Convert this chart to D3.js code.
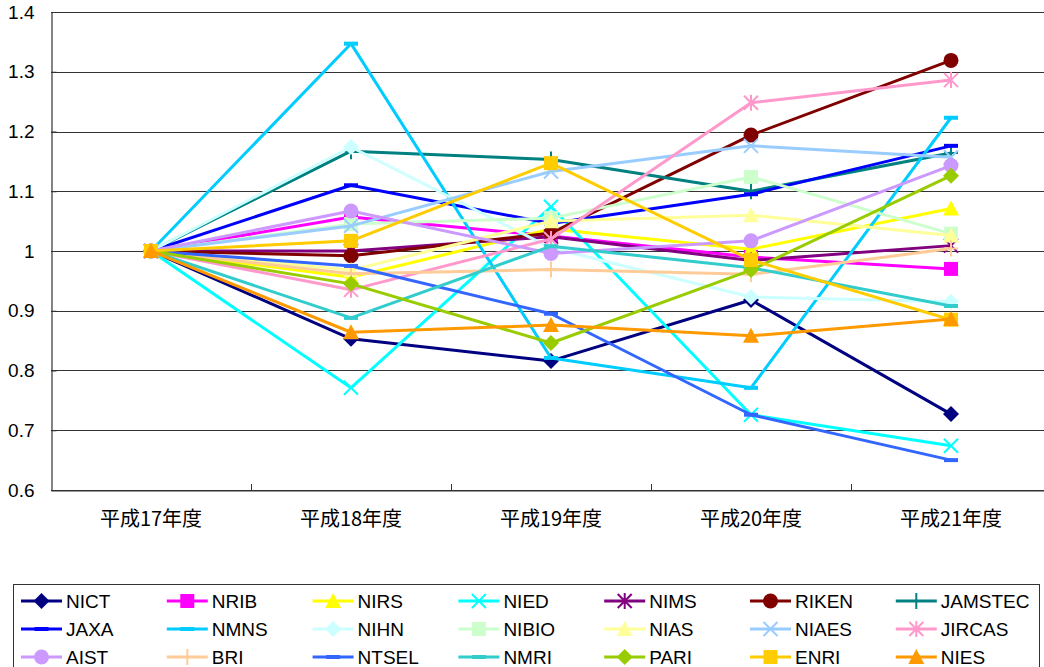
<!DOCTYPE html>
<html><head><meta charset="utf-8">
<script src="https://cdn.jsdelivr.net/npm/d3@7"></script>
<style>
html,body{margin:0;padding:0;background:#fff;}
svg{display:block;}
</style></head>
<body>
<svg id="chart" width="1044" height="667"></svg>
<script>
const categories = ["平成17年度","平成18年度","平成19年度","平成20年度","平成21年度"];
const seriesNames = ["NICT","NRIB","NIRS","NIED","NIMS","RIKEN","JAMSTEC","JAXA","NMNS","NIHN","NIBIO","NIAS","NIAES","JIRCAS","AIST","BRI","NTSEL","NMRI","PARI","ENRI","NIES"];
const NICT    = [1, 0.853, 0.816, 0.918, 0.727];
const NRIB    = [1, 1.057, 1.025, 0.990, 0.970];
const NIRS    = [1, 0.956, 1.037, 1.003, 1.071];
const NIED    = [1, 0.771, 1.074, 0.726, 0.674];
const NIMS    = [1, 1.000, 1.024, 0.984, 1.009];
const RIKEN   = [1, 0.992, 1.030, 1.194, 1.319];
const JAMSTEC = [1, 1.167, 1.153, 1.100, 1.164];
const JAXA    = [1, 1.110, 1.046, 1.095, 1.176];
const NMNS    = [1, 1.347, 0.821, 0.771, 1.223];
const NIHN    = [1, 1.174, 1.005, 0.923, 0.915];
const NIBIO   = [1, 1.045, 1.055, 1.124, 1.029];
const NIAS    = [1, 0.968, 1.050, 1.060, 1.026];
const NIAES   = [1, 1.042, 1.133, 1.176, 1.157];
const JIRCAS  = [1, 0.935, 1.020, 1.248, 1.286];
const AIST    = [1, 1.067, 0.996, 1.017, 1.143];
const BRI     = [1, 0.962, 0.969, 0.961, 1.004];
const NTSEL   = [1, 0.975, 0.895, 0.726, 0.650];
const NMRI    = [1, 0.888, 1.008, 0.972, 0.908];
const PARI    = [1, 0.945, 0.846, 0.968, 1.126];
const ENRI    = [1, 1.017, 1.147, 0.985, 0.885];
const NIES    = [1, 0.864, 0.876, 0.858, 0.886];
const yTicks = [0.6, 0.7, 0.8, 0.9, 1.0, 1.1, 1.2, 1.3, 1.4];
const yTickLabels = ["0.6","0.7","0.8","0.9","1","1.1","1.2","1.3","1.4"];
const colors  = ["#000080","#FF00FF","#FFFF00","#00FFFF","#800080","#800000","#008080","#0000FF","#00CCFF","#CCFFFF","#CCFFCC","#FFFF99","#99CCFF","#FF99CC","#CC99FF","#FFCC99","#3366FF","#33CCCC","#99CC00","#FFCC00","#FF9900"];
const markers = ["diamond","square","triangle","x","star","circle","plus","dash","dash","diamond","square","triangle","x","star","circle","plus","dash","dash","diamond","square","triangle"];

const values = [NICT,NRIB,NIRS,NIED,NIMS,RIKEN,JAMSTEC,JAXA,NMNS,NIHN,NIBIO,NIAS,NIAES,JIRCAS,AIST,BRI,NTSEL,NMRI,PARI,ENRI,NIES];
const series = seriesNames.map((n,i)=>({name:n, values:values[i], color:colors[i], marker:markers[i]}));

const svg = d3.select("#chart");
const pLeft = 51, pRight = 1051, pTop = 12, pBottom = 490;
const x = d3.scaleBand().domain(categories).range([pLeft, pRight]);
const cx = c => x(c) + x.bandwidth()/2;
const y = d3.scaleLinear().domain([0.6, 1.4]).range([pBottom, pTop]);

// gridlines
svg.append("g").selectAll("line").data(yTicks).join("line")
  .attr("x1", pLeft).attr("x2", pRight)
  .attr("y1", d => Math.round(y(d))+0.5).attr("y2", d => Math.round(y(d))+0.5)
  .attr("stroke", "#333").attr("stroke-width", 1);

// y axis
const yAxis = d3.axisLeft(y).tickValues(yTicks).tickSize(-5).tickPadding(17)
  .tickFormat((d,i)=>yTickLabels[i]);
const gy = svg.append("g").attr("transform", `translate(${pLeft+0.5},0)`).call(yAxis);
gy.select(".domain").attr("stroke","#333").attr("stroke-width",1.2);
gy.selectAll(".tick line").attr("stroke","#333");
gy.selectAll(".tick text").attr("font-family","'Liberation Sans', Arial, sans-serif")
  .attr("font-size","19px").attr("fill","#000");

// x axis
const xAxis = d3.axisBottom(x).tickSize(0).tickPadding(21);
const gx = svg.append("g").attr("transform", `translate(0,${pBottom+0.5})`).call(xAxis);
gx.select(".domain").attr("stroke","#333").attr("stroke-width",1.2);
gx.selectAll(".tick text").attr("font-family","'Noto Sans CJK JP', sans-serif")
  .attr("font-size","20px").attr("fill","#000");
// inner ticks between categories
const bounds = categories.slice(1).map(c => x(c));
svg.append("g").selectAll("line").data(bounds).join("line")
  .attr("x1", d=>Math.round(d)+0.5).attr("x2", d=>Math.round(d)+0.5)
  .attr("y1", pBottom).attr("y2", pBottom-6).attr("stroke","#333");

function drawMarker(g, type, color) {
  const s = 7;
  switch(type) {
    case "diamond":
      g.append("path").attr("d", `M0,${-s-1}L${s+1},0L0,${s+1}L${-s-1},0Z`).attr("fill", color); break;
    case "square":
      g.append("rect").attr("x",-s).attr("y",-s).attr("width",2*s).attr("height",2*s).attr("fill",color); break;
    case "triangle":
      g.append("path").attr("d", `M0,${-s-1}L${s+1},${s}L${-s-1},${s}Z`).attr("fill", color); break;
    case "circle":
      g.append("circle").attr("r", s+0.5).attr("fill", color); break;
    case "x":
      g.append("path").attr("d", `M${-s},${-s}L${s},${s}M${-s},${s}L${s},${-s}`).attr("stroke", color).attr("stroke-width",2).attr("fill","none"); break;
    case "star":
      g.append("path").attr("d", `M${-s},${-s}L${s},${s}M${-s},${s}L${s},${-s}M0,${-s-1}L0,${s+1}`).attr("stroke", color).attr("stroke-width",2).attr("fill","none"); break;
    case "plus":
      g.append("path").attr("d", `M0,${-s-1}L0,${s+1}M${-s},0L${s},0`).attr("stroke", color).attr("stroke-width",2).attr("fill","none"); break;
    case "dash":
      g.append("path").attr("d", `M${-s},0L${s},0`).attr("stroke", color).attr("stroke-width",4).attr("fill","none"); break;
  }
}

const line = d3.line().x((d,i)=>cx(categories[i])).y(d=>y(d));
const plot = svg.append("g");
series.forEach(s => {
  const g = plot.append("g");
  g.append("path").attr("d", line(s.values)).attr("fill","none")
    .attr("stroke", s.color).attr("stroke-width", 3).attr("stroke-linejoin","round");
  s.values.forEach((v,i) => {
    const mg = g.append("g").attr("transform", `translate(${cx(categories[i])},${y(v)})`);
    drawMarker(mg, s.marker, s.color);
  });
});

// legend
const lg = svg.append("g");
lg.append("rect").attr("x", 13.5).attr("y", 584.5).attr("width", 1026).attr("height", 120)
  .attr("fill","#fff").attr("stroke","#333").attr("stroke-width",1);
const colW = 145.8, rowH = 28;
series.forEach((s,i) => {
  const col = i % 7, row = Math.floor(i / 7);
  const x0 = 21 + col*colW, y0 = 601 + row*rowH;
  const g = lg.append("g");
  g.append("line").attr("x1", x0).attr("x2", x0+41).attr("y1", y0).attr("y2", y0)
    .attr("stroke", s.color).attr("stroke-width", 3);
  const mg = g.append("g").attr("transform", `translate(${x0+20.5},${y0})`);
  drawMarker(mg, s.marker, s.color);
  g.append("text").attr("x", x0+45).attr("y", y0).attr("dy","0.36em")
    .attr("font-family","'Liberation Sans', Arial, sans-serif").attr("font-size","19px")
    .attr("fill","#000").text(s.name);
});
</script>
</body></html>
